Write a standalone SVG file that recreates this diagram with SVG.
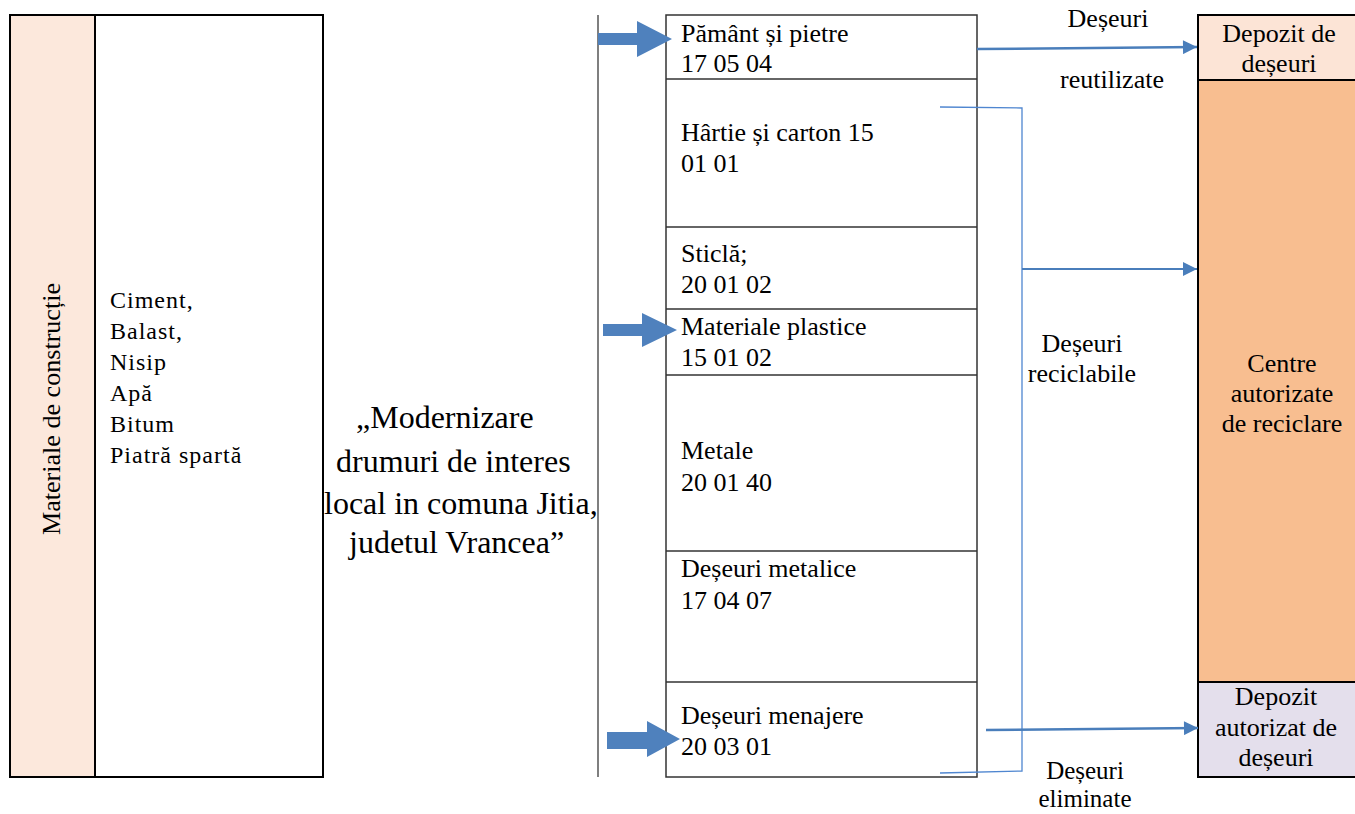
<svg xmlns="http://www.w3.org/2000/svg" width="1355" height="814" viewBox="0 0 1355 814" font-family="'Liberation Serif', 'Times New Roman', serif">
<defs>
<style>
text{font-family:'Liberation Serif','Times New Roman',serif;fill:#000}
.t{font-size:26px}
.l{font-size:24px;letter-spacing:1px}
.m{font-size:26px;text-anchor:middle}
.e{font-size:25px;text-anchor:middle}
.c{font-size:32px}
.box{fill:none;stroke:#333;stroke-width:1.5}
.blk{stroke:#000;stroke-width:2}
.fat{fill:#4F81BD}
.con{fill:none;stroke:#4A7EBB;stroke-width:2.5}
.thin{fill:none;stroke:#4F86D0;stroke-width:1.3}
</style>
<marker id="ah" viewBox="0 0 10 10" refX="10" refY="5" markerWidth="16" markerHeight="14" markerUnits="userSpaceOnUse" orient="auto">
<path d="M0,0 L10,5 L0,10 z" fill="#4A7EBB"/>
</marker>
</defs>

<g id="materiale">
<rect x="10" y="15" width="85" height="762" fill="#FCE8DC" class="blk"/>
<rect x="95" y="15" width="228" height="762" fill="#fff" class="blk"/>
<text transform="translate(60,409) rotate(-90)" style="font-size:26px;text-anchor:middle" textLength="252" lengthAdjust="spacingAndGlyphs">Materiale de construcție</text>
<text class="l" x="110" y="308">Ciment,</text>
<text class="l" x="110" y="339">Balast,</text>
<text class="l" x="110" y="370">Nisip</text>
<text class="l" x="110" y="401">Apă</text>
<text class="l" x="110" y="432">Bitum</text>
<text class="l" x="110" y="463">Piatră spartă</text>
</g>

<g id="proiect">
<text class="c" x="356" y="428">„Modernizare</text>
<text class="c" x="336" y="472">drumuri de interes</text>
<text class="c" x="324" y="514">local in comuna Jitia,</text>
<text class="c" x="349" y="553">judetul Vrancea”</text>
</g>

<g id="axa">
<line x1="598" y1="15" x2="598" y2="777" stroke="#555" stroke-width="1.5"/>
</g>

<g id="deseuri">
<rect class="box" x="666" y="15" width="311" height="762"/>
<line class="box" x1="666" y1="79" x2="977" y2="79"/>
<line class="box" x1="666" y1="227" x2="977" y2="227"/>
<line class="box" x1="666" y1="309" x2="977" y2="309"/>
<line class="box" x1="666" y1="375" x2="977" y2="375"/>
<line class="box" x1="666" y1="551" x2="977" y2="551"/>
<line class="box" x1="666" y1="682" x2="977" y2="682"/>
<text class="t" x="681" y="42">Pământ și pietre</text>
<text class="t" x="681" y="72">17 05 04</text>
<text class="t" x="681" y="141">Hârtie și carton 15</text>
<text class="t" x="681" y="172">01 01</text>
<text class="t" x="681" y="262">Sticlă;</text>
<text class="t" x="681" y="293">20 01 02</text>
<text class="t" x="681" y="335">Materiale plastice</text>
<text class="t" x="681" y="366">15 01 02</text>
<text class="t" x="681" y="459">Metale</text>
<text class="t" x="681" y="491">20 01 40</text>
<text class="t" x="681" y="577">Deșeuri metalice</text>
<text class="t" x="681" y="609">17 04 07</text>
<text class="t" x="681" y="724">Deșeuri menajere</text>
<text class="t" x="681" y="755">20 03 01</text>
</g>

<g id="depozit-deseuri">
<rect x="1198" y="15" width="162" height="65" fill="#FCE4D6" class="blk"/>
<text class="m" x="1279" y="42">Depozit de</text>
<text class="m" x="1279" y="72">deșeuri</text>
</g>
<g id="centre-reciclare">
<rect x="1198" y="80" width="162" height="602" fill="#F8BE90" class="blk"/>
<text class="m" x="1282" y="372">Centre</text>
<text class="m" x="1282" y="402">autorizate</text>
<text class="m" x="1282" y="432">de reciclare</text>
</g>
<g id="depozit-autorizat">
<rect x="1198" y="682" width="162" height="95" fill="#E4DFEC" class="blk"/>
<text class="m" x="1276" y="705">Depozit</text>
<text class="m" x="1276" y="736">autorizat de</text>
<text class="m" x="1276" y="766">deșeuri</text>
</g>

<g id="etichete">
<text class="m" x="1108" y="27">Deșeuri</text>
<text class="m" x="1112" y="88">reutilizate</text>
<text class="m" x="1082" y="352">Deșeuri</text>
<text class="m" x="1082" y="382">reciclabile</text>
<text class="e" x="1085" y="779">Deșeuri</text>
<text class="e" x="1085" y="807">eliminate</text>
</g>

<g id="connectors">
<path class="fat" d="M598,33 L637,33 L637,21 L672,39 L637,57 L637,45 L598,45 z"/>
<path class="fat" d="M603,324 L642,324 L642,313 L677,330 L642,347 L642,336 L603,336 z"/>
<path class="fat" d="M607,732 L647,732 L647,721 L680,739 L647,757 L647,749 L607,749 z"/>
<path class="con" d="M977,49 L1197,47" marker-end="url(#ah)"/>
<path class="thin" d="M940,107 L1022,108 L1022,771 L940,773"/>
<path class="con" style="stroke-width:2" d="M1022,269 L1197,269" marker-end="url(#ah)"/>
<path class="con" d="M986,730 L1198,728" marker-end="url(#ah)"/>
</g>
</svg>
